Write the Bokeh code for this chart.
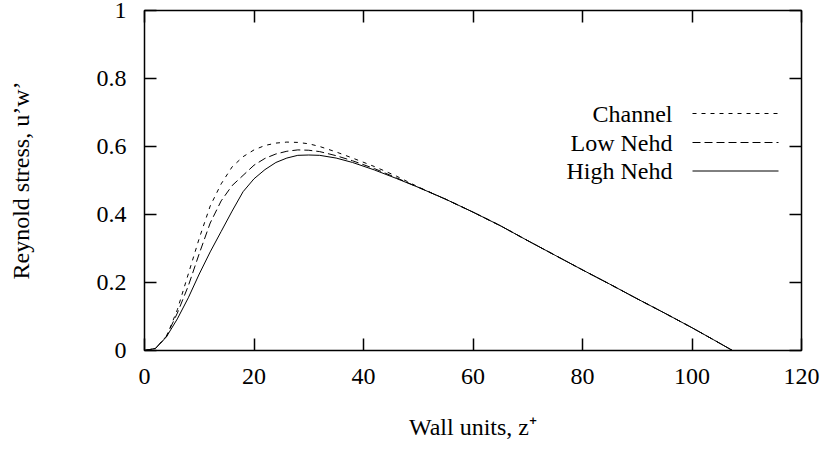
from bokeh.plotting import figure
from bokeh.models import (Range1d, LinearAxis, FixedTicker, PrintfTickFormatter,
                          Label, Arrow, CustomLabelingPolicy)
from bokeh.embed import file_html
from bokeh.resources import INLINE

# Wall-normal distance in wall units
z_plus = [0, 2, 4, 6, 8, 10, 12, 14, 16, 18, 20, 22, 24, 26, 28, 30, 32, 35, 38,
          42, 46, 50, 55, 60, 65, 70, 75, 80, 85, 90, 95, 100, 104, 107.4]

# Reynolds shear stress profiles
channel = [0, 0.006, 0.040, 0.120, 0.225, 0.330, 0.425, 0.490, 0.540, 0.570,
           0.590, 0.603, 0.610, 0.613, 0.612, 0.608, 0.600, 0.584, 0.566,
           0.541, 0.513, 0.481, 0.445, 0.407, 0.367, 0.323, 0.280, 0.237,
           0.195, 0.152, 0.110, 0.067, 0.031, 0.0]
low_nehd = [0, 0.006, 0.042, 0.110, 0.190, 0.285, 0.375, 0.440, 0.485, 0.515,
            0.545, 0.565, 0.578, 0.586, 0.590, 0.589, 0.585, 0.573, 0.558,
            0.535, 0.508, 0.480, 0.445, 0.407, 0.367, 0.323, 0.280, 0.237,
            0.195, 0.152, 0.110, 0.067, 0.031, 0.0]
high_nehd = [0, 0.006, 0.040, 0.093, 0.155, 0.225, 0.290, 0.350, 0.410, 0.467,
             0.505, 0.532, 0.553, 0.566, 0.574, 0.575, 0.574, 0.566, 0.553,
             0.531, 0.506, 0.480, 0.445, 0.407, 0.367, 0.323, 0.280, 0.237,
             0.195, 0.152, 0.110, 0.067, 0.031, 0.0]

series_names = ["Channel", "Low Nehd", "High Nehd"]
x_ticks = [0, 20, 40, 60, 80, 100, 120]
y_ticks = [0, 0.2, 0.4, 0.6, 0.8, 1]

FONT = "Liberation Serif"
STYLES = {"Channel": "4 5", "Low Nehd": "8 4", "High Nehd": "solid"}

p = figure(width=822, height=450, output_backend="svg", toolbar_location=None,
           x_range=Range1d(0, 120), y_range=Range1d(0, 1),
           min_border_left=144, min_border_right=21,
           min_border_top=10, min_border_bottom=100,
           background_fill_color="white", border_fill_color="white",
           outline_line_color="black", outline_line_width=1.5)
p.grid.visible = False

# mirrored tick marks on the top and right edges
top_axis = LinearAxis()
right_axis = LinearAxis()
p.add_layout(top_axis, "above")
p.add_layout(right_axis, "right")
bottom_axis = p.below[0]
left_axis = p.left[0]

for ax in (bottom_axis, top_axis):
    ax.ticker = FixedTicker(ticks=x_ticks)
for ax in (left_axis, right_axis):
    ax.ticker = FixedTicker(ticks=y_ticks)
    ax.formatter = PrintfTickFormatter(format="%g")

for ax in (bottom_axis, top_axis, left_axis, right_axis):
    ax.axis_line_color = None
    ax.major_tick_in = 12
    ax.major_tick_out = 0
    ax.major_tick_line_color = "black"
    ax.major_tick_line_width = 1.5
    ax.minor_tick_line_color = None
    ax.major_label_text_font = FONT
    ax.major_label_text_font_size = "24px"
    ax.major_label_text_color = "black"
    ax.major_label_standoff = 18

# the mirrored axes carry ticks only
no_labels = CustomLabelingPolicy(
    code="for (let i = 0; i < indices.size; i++) { indices.unset(i) } return indices")
for ax in (top_axis, right_axis):
    ax.major_label_policy = no_labels
    ax.major_label_text_font_size = "0px"
    ax.major_label_standoff = 0

left_axis.axis_label = "Reynold stress, u’w’"
left_axis.axis_label_standoff = 60
bottom_axis.axis_label = "Wall units, z⁺"
bottom_axis.axis_label_standoff = 27
for ax in (bottom_axis, left_axis):
    ax.axis_label_text_font = FONT
    ax.axis_label_text_font_size = "24px"
    ax.axis_label_text_font_style = "normal"
    ax.axis_label_text_color = "black"

for name, vals in zip(series_names, [channel, low_nehd, high_nehd]):
    p.line(z_plus, vals, line_color="black", line_width=1,
           line_dash=STYLES[name])

# key: right-aligned names followed by line samples
row_y = [237, 208, 179.5]
for name, ry in zip(series_names, row_y):
    p.add_layout(Label(x=528, y=ry, x_units="screen", y_units="screen",
                       text=name, text_align="right", text_baseline="middle",
                       text_font=FONT, text_font_size="24px",
                       text_color="black"))
    p.add_layout(Arrow(end=None, x_start=548, y_start=ry, x_end=634, y_end=ry,
                       start_units="screen", end_units="screen",
                       line_color="black", line_width=1,
                       line_dash=STYLES[name]))

open("out.html", "w").write(file_html(p, INLINE))
